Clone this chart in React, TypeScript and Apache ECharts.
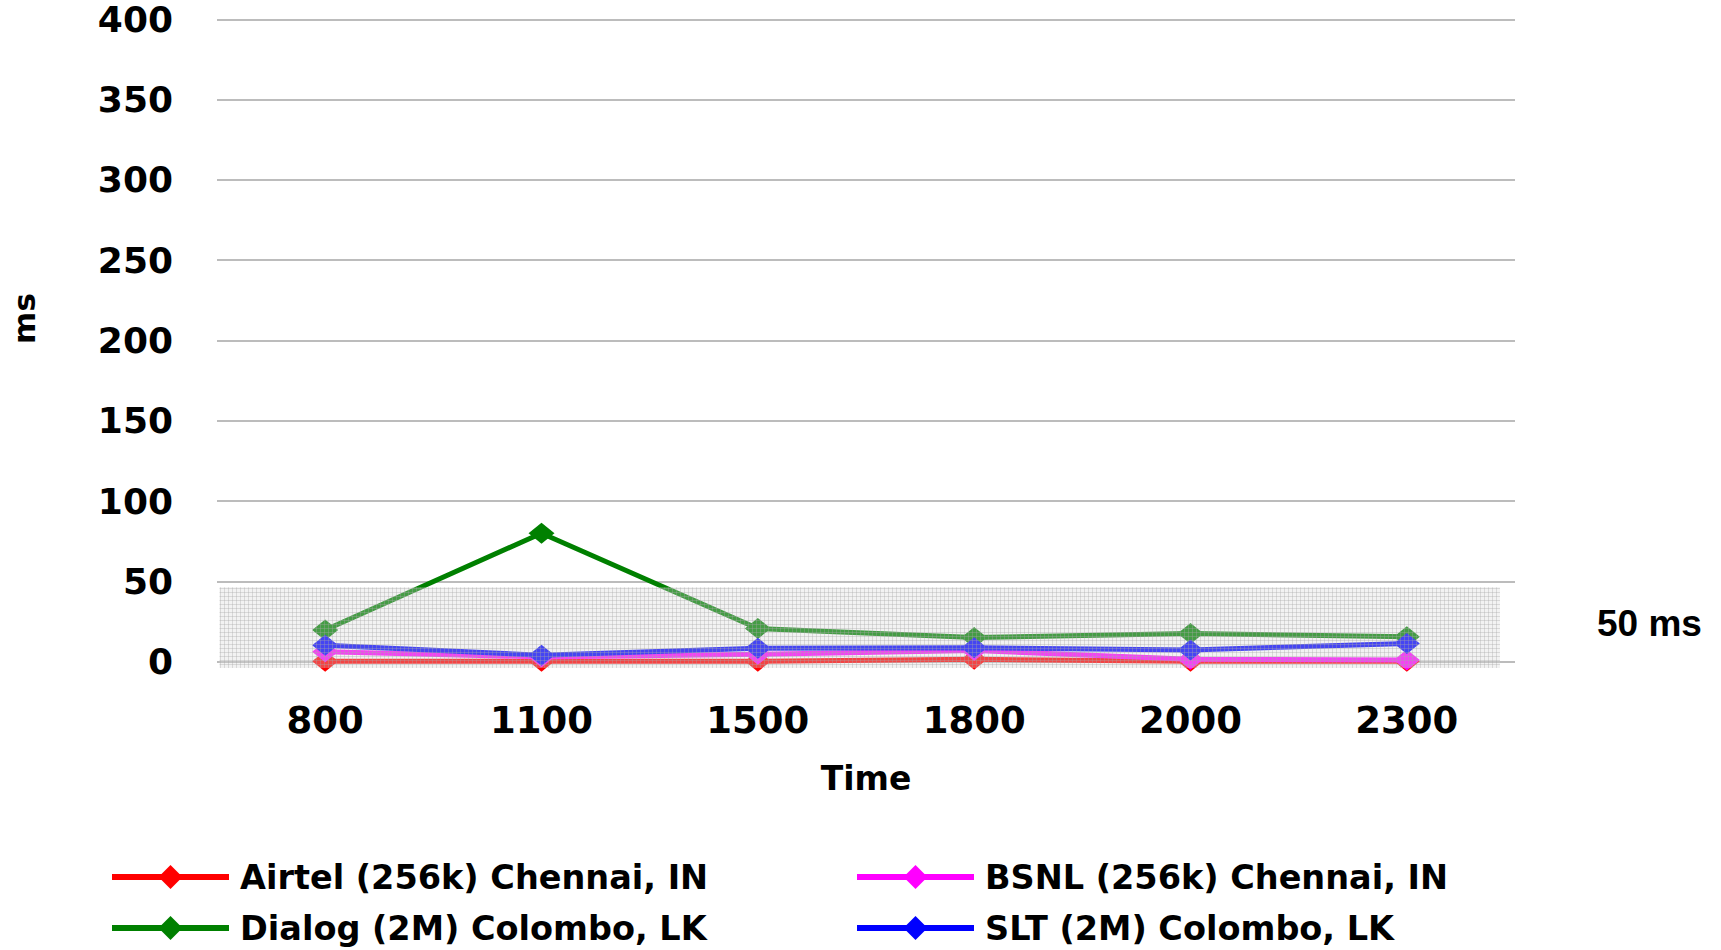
import React, { useEffect, useRef } from "react";
import * as echarts from "echarts";

const categories = ["800", "1100", "1500", "1800", "2000", "2300"];
const airtel = [0.3, 0.3, 0.3, 1.5, 0.3, 0.3];
const bsnl = [6.2, 3, 4.6, 7, 1.5, 1];
const dialog = [19.7, 80, 20.7, 15.1, 17.6, 15.5];
const slt = [10.3, 4, 8.3, 8.7, 7.3, 11.4];
const yTicks = { min: 0, max: 400, interval: 50 };

const seriesNames = [
  "Airtel (256k) Chennai, IN",
  "BSNL (256k) Chennai, IN",
  "Dialog (2M) Colombo, LK",
  "SLT (2M) Colombo, LK",
];
const seriesColors = ["#ff0000", "#ff00ff", "#008000", "#0000ff"];
const seriesData = [airtel, bsnl, dialog, slt];

const W = 1721;
const H = 950;
const GRID = { left: 211, right: 206, top: 19.3, bottom: 288.3 };
const FONT = "'DejaVu Sans', sans-serif";
// legend slots: [left, top] for each series, in series order
const LEGEND_POS = [
  [109, 860],
  [854, 860],
  [109, 911],
  [854, 911],
];

function makePattern(): HTMLCanvasElement {
  const c = document.createElement("canvas");
  c.width = 4;
  c.height = 4;
  const ctx = c.getContext("2d")!;
  ctx.fillStyle = "rgba(215,215,215,0.32)";
  ctx.fillRect(0, 0, 4, 4);
  ctx.fillStyle = "rgba(165,165,165,0.35)";
  ctx.fillRect(0, 0, 4, 1);
  ctx.fillRect(0, 0, 1, 4);
  return c;
}

export default function App() {
  const ref = useRef<HTMLDivElement>(null);
  useEffect(() => {
    document.body.style.margin = "0";
    const chart = echarts.init(ref.current!, undefined, { renderer: "svg" });
    const legendText = {
      color: "#000",
      fontFamily: FONT,
      fontWeight: "bold" as const,
      fontSize: 33.5,
      lineHeight: 34,
      padding: [0, 0, 0, 6],
    };
    chart.setOption({
      animation: false,
      backgroundColor: "#fff",
      grid: { ...GRID, containLabel: false },
      xAxis: {
        type: "category",
        data: categories,
        boundaryGap: true,
        axisLine: { show: false },
        axisTick: { show: false },
        axisLabel: {
          margin: 40,
          color: "#000",
          fontFamily: FONT,
          fontWeight: "bold",
          fontSize: 37,
        },
        name: "Time",
        nameLocation: "middle",
        nameGap: 100,
        nameTextStyle: {
          color: "#000",
          fontFamily: FONT,
          fontWeight: "bold",
          fontSize: 33,
        },
      },
      yAxis: {
        type: "value",
        min: yTicks.min,
        max: yTicks.max,
        interval: yTicks.interval,
        axisLine: { show: false },
        axisTick: { show: false },
        splitLine: { lineStyle: { color: "#a6a6a6", width: 1.5 } },
        axisLabel: {
          margin: 44,
          color: "#000",
          fontFamily: FONT,
          fontWeight: "bold",
          fontSize: 36,
        },
        name: "ms",
        nameLocation: "middle",
        nameGap: 178,
        nameTextStyle: {
          color: "#000",
          fontFamily: FONT,
          fontWeight: "bold",
          fontSize: 31,
          padding: [0, 0, 0, 44],
        },
      },
      legend: seriesNames.map((name, i) => ({
        orient: "horizontal",
        left: LEGEND_POS[i][0],
        top: LEGEND_POS[i][1],
        padding: 0,
        itemWidth: 117,
        itemHeight: 30,
        lineStyle: { width: 6 },
        data: [name],
        textStyle: legendText,
      })),
      series: seriesNames.map((name, i) => ({
        name,
        type: "line",
        data: seriesData[i],
        symbol: "diamond",
        symbolSize: [26, 21],
        lineStyle: { color: seriesColors[i], width: 5 },
        itemStyle: { color: seriesColors[i] },
        z: 2 + i,
      })),
    });

    const yTop = chart.convertToPixel({ yAxisIndex: 0 }, 46.4) as number;
    const yBot = chart.convertToPixel({ yAxisIndex: 0 }, -3.9) as number;
    const yMid = chart.convertToPixel({ yAxisIndex: 0 }, 23.7) as number;
    const plotRight = W - GRID.right;
    chart.setOption({
      graphic: [
        {
          type: "rect",
          z: 100,
          silent: true,
          shape: {
            x: GRID.left + 8.5,
            y: yTop,
            width: plotRight - 15 - (GRID.left + 8.5),
            height: yBot - yTop,
          },
          style: {
            fill: {
              image: makePattern(),
              repeat: "repeat",
              imageWidth: 4,
              imageHeight: 4,
            } as any,
          },
        },
        {
          type: "text",
          z: 100,
          left: 1597,
          top: yMid - 19,
          style: {
            text: "50 ms",
            fill: "#000",
            fontFamily: "'Liberation Sans', Arial, sans-serif",
            fontWeight: "bold",
            fontSize: 37,
          },
        },
      ],
    });
    return () => chart.dispose();
  }, []);
  return <div ref={ref} style={{ width: W, height: H }} />;
}
